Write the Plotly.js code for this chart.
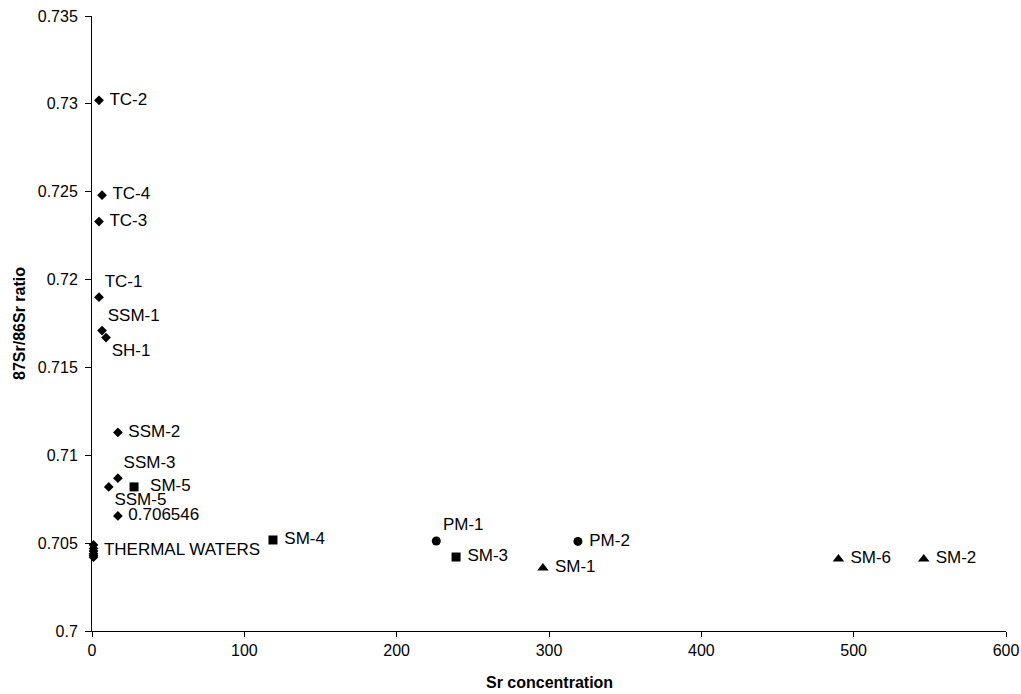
<!DOCTYPE html>
<html>
<head>
<meta charset="utf-8">
<script src="https://cdn.plot.ly/plotly-3.0.1.min.js"></script>
<style>html,body{margin:0;padding:0;background:#fff;}#chart{width:1021px;height:694px;}</style>
</head>
<body>
<div id="chart"></div>
<script>
// Diamond samples (rocks / sediments / thermal waters)
const diamondX = [4.6, 6.6, 4.6, 4.6, 6.6, 9.2, 17, 17, 11, 17, 1, 1, 1, 1, 1, 1];
const diamondY = [0.7302, 0.7248, 0.7233, 0.7190, 0.7171, 0.7167, 0.7113, 0.7087, 0.7082, 0.706546, 0.7049, 0.7047, 0.70455, 0.7044, 0.7043, 0.7042];
const diamondLabels = ["TC-2", "TC-4", "TC-3", "TC-1", "SSM-1", "SH-1", "SSM-2", "SSM-3", "SSM-5", "0.706546", "", "", "THERMAL WATERS", "", "", ""];
const diamondPos = ["middle right", "middle right", "middle right", "top right", "top right", "bottom right", "middle right", "top right", "bottom right", "middle right", "middle right", "middle right", "middle right", "middle right", "middle right", "middle right"];

// Square samples
const squareX = [27.6, 118.8, 239];
const squareY = [0.7082, 0.70518, 0.70421];
const squareLabels = ["SM-5", "SM-4", "SM-3"];
const squarePos = ["middle right", "middle right", "middle right"];

// Circle samples
const circleX = [226, 319];
const circleY = [0.70512, 0.7051];
const circleLabels = ["PM-1", "PM-2"];
const circlePos = ["top right", "middle right"];

// Triangle samples
const triangleX = [296, 490, 546];
const triangleY = [0.70359, 0.7041, 0.7041];
const triangleLabels = ["SM-1", "SM-6", "SM-2"];
const trianglePos = ["middle right", "middle right", "middle right"];

const xTicks = [0, 100, 200, 300, 400, 500, 600];
const yTicks = [0.7, 0.705, 0.71, 0.715, 0.72, 0.725, 0.73, 0.735];

const FAM = "Liberation Sans, Arial, sans-serif";
const labelFont = {family: FAM, size: 17, color: "#000"};

function trace(x, y, labels, pos, symbol, size, templates) {
  return {
    type: "scatter", mode: "markers+text", x: x, y: y, text: labels,
    textposition: pos,
    texttemplate: templates || pos.map(p => p === "middle right" ? "\u00a0%{text}" : "%{text}"),
    textfont: labelFont, cliponaxis: false,
    marker: {symbol: symbol, size: size, color: "#000", line: {width: 0}},
    hoverinfo: "x+y", showlegend: false
  };
}

const data = [
  trace(diamondX, diamondY, diamondLabels, diamondPos, "diamond", 7.5),
  trace(squareX, squareY, squareLabels, squarePos, "square", 9,
        ["\u00a0\u00a0%{text}", "\u00a0%{text}", "\u00a0%{text}"]),
  trace(circleX, circleY, circleLabels, circlePos, "circle", 9),
  trace(triangleX, triangleY, triangleLabels, trianglePos, "triangle-up", 10)
];

const layout = {
  width: 1021, height: 694,
  margin: {l: 92, r: 15, t: 16, b: 63},
  paper_bgcolor: "#fff", plot_bgcolor: "#fff",
  font: labelFont,
  showlegend: false,
  xaxis: {
    range: [0, 600], tickvals: xTicks, ticktext: xTicks.map(String),
    showgrid: false, zeroline: false, showline: true, linecolor: "#000", linewidth: 1,
    ticks: "outside", ticklen: 5, tickcolor: "#000",
    tickfont: {family: FAM, size: 16, color: "#000"}
  },
  yaxis: {
    range: [0.7, 0.735], tickvals: yTicks, ticktext: yTicks.map(String),
    showgrid: false, zeroline: false, showline: true, linecolor: "#000", linewidth: 1,
    ticks: "outside", ticklen: 6, tickcolor: "#000", ticklabelstandoff: 4,
    tickfont: {family: FAM, size: 16, color: "#000"},
    title: {text: "<b>87Sr/86Sr ratio</b>", font: {family: FAM, size: 16, color: "#000"}, standoff: 8}
  },
  annotations: [{
    text: "<b>Sr concentration</b>", xref: "paper", yref: "paper", x: 0.5, y: 0,
    xanchor: "center", yanchor: "middle", yshift: -51, showarrow: false,
    font: {family: FAM, size: 16, color: "#000"}
  }]
};

Plotly.newPlot("chart", data, layout, {displayModeBar: false, staticPlot: true});
</script>
</body>
</html>
